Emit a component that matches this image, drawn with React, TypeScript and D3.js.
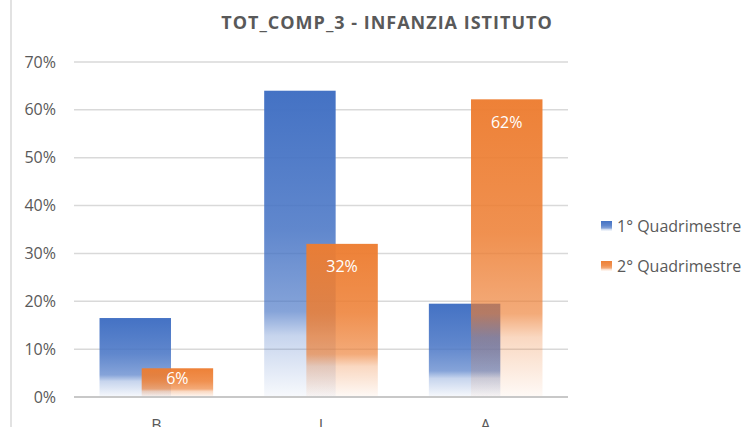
import React from 'react';
import * as d3 from 'd3';

const categories = ['B', 'I', 'A'];
const seriesNames = ['1° Quadrimestre', '2° Quadrimestre'];
const q1Values = [0.165, 0.64, 0.195];
const q2Values = [0.06, 0.32, 0.622];
const yTicks = [0, 0.1, 0.2, 0.3, 0.4, 0.5, 0.6, 0.7];
const colors = ['#4472C4', '#ED7D31'];

const W = 745;
const H = 427;
const font = '"Open Sans", "DejaVu Sans", sans-serif';
const textColor = '#595959';

const App = () => {
  const x = d3.scaleBand()
    .domain(categories)
    .range([74, 568])
    .paddingInner(0.31)
    .paddingOuter(0.155);

  const y = d3.scaleLinear()
    .domain([0, 0.7])
    .range([397, 62]);

  const overlap = 0.41;
  const barW = x.bandwidth() / (2 - overlap);
  const barOffset = barW * (1 - overlap);
  const pct = d3.format('.0%');
  const series = [q1Values, q2Values];

  return (
    <svg width={W} height={H} style={{ position: 'absolute', left: 0, top: 0 }}>
      <defs>
        {colors.map((c, i) => (
          <linearGradient key={c} id={`grad${i}`} x1="0" y1="0" x2="0" y2="1">
            <stop offset="0" stopColor={c} stopOpacity={i === 0 ? 1 : 0.97} />
            <stop offset="0.45" stopColor={c} stopOpacity={i === 0 ? 0.85 : 0.85} />
            <stop offset="0.72" stopColor={c} stopOpacity={0.65} />
            <stop offset="0.8" stopColor={c} stopOpacity={0.3} />
            <stop offset="1" stopColor={c} stopOpacity={0.04} />
          </linearGradient>
        ))}
      </defs>

      <rect width={W} height={H} fill="#fff" />
      <line x1={11} x2={11} y1={0} y2={H} stroke="#d9d9d9" strokeWidth={1.5} />

      <text x={387} y={29} textAnchor="middle" fontFamily={font} fontSize={18}
        fontWeight="bold" letterSpacing={1} fill={textColor}>
        TOT_COMP_3 - INFANZIA ISTITUTO
      </text>

      {yTicks.map(t => (
        <g key={t}>
          {t > 0 && (
            <line x1={74} x2={568} y1={y(t)} y2={y(t)} stroke="#d9d9d9" strokeWidth={1.5} />
          )}
          <text x={56} y={y(t)} dy="0.35em" textAnchor="end" fontFamily={font}
            fontSize={16} fill={textColor}>
            {pct(t)}
          </text>
        </g>
      ))}

      {series.map((vals, s) => (
        <g key={s}>
          {categories.map((c, i) => (
            <rect key={c}
              x={(x(c) as number) + s * barOffset}
              y={y(vals[i])}
              width={barW}
              height={y(0) - y(vals[i])}
              fill={`url(#grad${s})`} />
          ))}
        </g>
      ))}

      {categories.map((c, i) => {
        const top = y(q2Values[i]);
        const h = y(0) - top;
        return (
          <text key={c} x={(x(c) as number) + barOffset + barW / 2}
            y={top + Math.min(23, h * 0.35)} dy="0.35em" textAnchor="middle"
            fontFamily={font} fontSize={16} fill="#fff">
            {pct(q2Values[i])}
          </text>
        );
      })}

      <line x1={74} x2={568} y1={y(0)} y2={y(0)} stroke="#c8c8c8" strokeWidth={2} />

      {categories.map(c => (
        <text key={c} x={(x(c) as number) + x.bandwidth() / 2} y={431}
          textAnchor="middle" fontFamily={font} fontSize={16} fill={textColor}>
          {c}
        </text>
      ))}

      {seriesNames.map((n, i) => (
        <g key={n} transform={`translate(601, ${226 + i * 40})`}>
          <rect x={0} y={-5} width={11} height={10} fill={`url(#grad${i})`} />
          <text x={16} y={0} dy="0.35em" fontFamily={font} fontSize={16} fill={textColor}>
            {n}
          </text>
        </g>
      ))}
    </svg>
  );
};

export default App;
